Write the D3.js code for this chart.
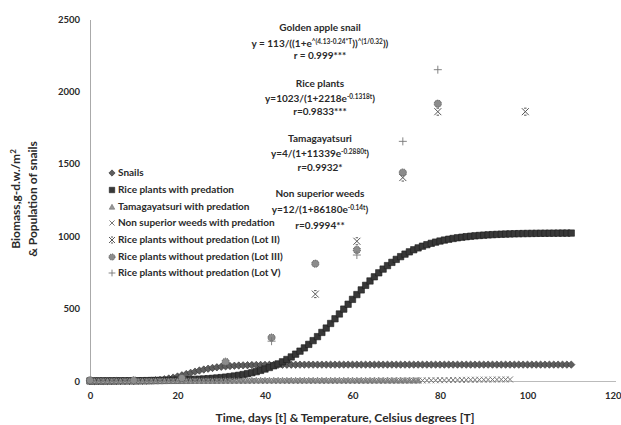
<!DOCTYPE html>
<html><head><meta charset="utf-8">
<script src="https://cdn.jsdelivr.net/npm/d3@7"></script>
<style>
html,body{margin:0;padding:0;background:#fff;}
svg{display:block;}
text{font-family:Lato,"Open Sans",sans-serif;fill:#2a2a2a;}
</style></head>
<body>
<script>
// ---- data (index of each curve array = day) ----
const snails = [0,0,0,0,0,0,0.02,0.04,0.08,0.16,
 0.30,0.57,1.03,1.82,3.10,5.08,7.97,11.97,17.19,23.60,
 31.06,39.26,47.83,56.39,64.60,72.21,79.03,85.02,90.14,94.47,
 98.06,101.0,103.4,105.4,106.9,108.2,109.2,110.0,110.6,111.1,
 111.5,111.8,112.1,112.3,112.4,112.6,112.7,112.7,112.8,112.8,
 112.9,112.9,112.9,112.9,112.9,113,113,113,113,113,
 113,113,113,113,113,113,113,113,113,113,
 113,113,113,113,113,113,113,113,113,113,
 113,113,113,113,113,113,113,113,113,113,
 113,113,113,113,113,113,113,113,113,113,
 113,113,113,113,113,113,113,113,113,113,113];
const riceWithPredation = [0.5,0.5,0.6,0.7,0.8,0.9,1.0,1.2,1.3,1.5,
 1.7,2.0,2.2,2.6,2.9,3.3,3.8,4.3,4.9,5.6,
 6.4,7.3,8.3,9.5,10.8,12.3,14.0,16.0,18.2,20.7,
 23.5,26.7,30.4,34.5,39.2,44.5,50.5,57.2,64.7,73.2,
 82.7,93.3,105.0,118.1,132.6,148.6,166.1,185.3,206.1,228.7,
 252.9,278.9,306.4,335.4,365.7,397.3,429.8,462.9,496.4,530.1,
 563.7,596.8,629.2,660.6,690.9,719.7,747.1,772.8,796.9,819.3,
 839.9,858.9,876.2,892.0,906.4,919.3,931.0,941.5,950.8,959.1,
 966.6,973.3,979.1,984.3,989.0,993.0,996.6,999.8,1002.6,1005.1,
 1007.3,1009.2,1010.9,1012.4,1013.7,1014.8,1015.8,1016.7,1017.5,1018.2,
 1018.7,1019.2,1019.6,1020.0,1020.3,1020.6,1020.9,1021.1,1021.3,1021.4,1021.6];
const tamagayatsuri = [0,0,0,0,0,0,0,0,0,0,
 0.01,0.01,0.01,0.01,0.02,0.03,0.04,0.05,0.06,0.08,
 0.11,0.14,0.19,0.25,0.33,0.43,0.54,0.69,0.87,1.09,
 1.33,1.60,1.88,2.17,2.45,2.72,2.95,3.16,3.33,3.47,
 3.59,3.68,3.76,3.82,3.86,3.89,3.92,3.94,3.96,3.97,
 3.97,3.98,3.98,3.99,3.99,3.99,3.99,4,4,4,
 4,4,4,4,4,4,4,4,4,4,
 4,4,4,4,4,4];
const nonSuperiorWeeds = [0,0,0,0,0,0,0,0,0,0,
 0,0,0,0,0,0,0,0,0,0,
 0,0,0,0,0,0,0,0,0,0,
 0.01,0.01,0.01,0.01,0.01,0.02,0.02,0.02,0.03,0.03,
 0.04,0.04,0.05,0.06,0.07,0.08,0.09,0.10,0.11,0.13,
 0.15,0.17,0.20,0.23,0.26,0.30,0.34,0.39,0.45,0.52,
 0.59,0.67,0.77,0.87,1.00,1.13,1.28,1.45,1.64,1.85,
 2.08,2.33,2.60,2.90,3.22,3.56,3.92,4.30,4.69,5.10,
 5.51,5.93,6.35,6.76,7.17,7.57,7.96,8.32,8.67,8.99,
 9.30,9.58,9.84,10.07,10.29,10.49,10.66];
const lot2Days = [51.5, 61, 71.5, 79.5, 99.5];
const lot2Values = [600, 965, 1405, 1860, 1860];
const lot3Days = [0, 10, 21, 31, 41.5, 51.5, 61, 71.5, 79.5];
const lot3Values = [5, 5, 20, 133, 300, 810, 905, 1440, 1915];
const lot5Days = [41.5, 61, 71.5, 79.5];
const lot5Values = [275, 870, 1655, 2150];
const xTicks = [0, 20, 40, 60, 80, 100, 120];
const yTicks = [0, 500, 1000, 1500, 2000, 2500];
const legendLabels = ["Snails", "Rice plants with predation", "Tamagayatsuri with predation",
 "Non superior weeds with predation", "Rice plants without predation (Lot II)",
 "Rice plants without predation (Lot III)", "Rice plants without predation (Lot V)"];

// ---- setup ----
const W = 621, H = 425;
const svg = d3.select("body").append("svg").attr("width", W).attr("height", H);
svg.append("rect").attr("width", W).attr("height", H).attr("fill", "#fff");
const x = d3.scaleLinear().domain([0, 120]).range([90, 615]);
const y = d3.scaleLinear().domain([0, 2500]).range([381, 19]);

// ---- marker shapes ----
const shapes = {
  diamond: s => `M0,${-s}L${s},0L0,${s}L${-s},0Z`,
  square: s => `M${-s},${-s}h${2*s}v${2*s}h${-2*s}Z`,
  triangle: s => `M0,${-s}L${s},${s*0.8}L${-s},${s*0.8}Z`,
  cross: s => `M${-s},${-s}L${s},${s}M${-s},${s}L${s},${-s}`,
  star: s => `M${-s},${-s}L${s},${s}M${-s},${s}L${s},${-s}M${-s*0.35},${-s}L${s*0.35},${-s}M${-s*0.35},${s}L${s*0.35},${s}`,
  plus: s => `M${-s},0L${s},0M0,${-s}L0,${s}`
};
const styles = [
  {shape: "diamond", size: 3.7, fill: "#5e5e5e", stroke: "#333", sw: 0.6},
  {shape: "square", size: 3.2, fill: "#383838", stroke: "#1e1e1e", sw: 0.6},
  {shape: "triangle", size: 3.2, fill: "#9a9a9a", stroke: "#666", sw: 0.6},
  {shape: "cross", size: 3.0, fill: "none", stroke: "#777", sw: 1},
  {shape: "star", size: 3.5, fill: "none", stroke: "#555", sw: 1},
  {shape: "circle", size: 3.6, fill: "#8c8c8c", stroke: "#555", sw: 1},
  {shape: "plus", size: 4, fill: "none", stroke: "#777", sw: 0.9}
];
function drawMarker(g, st) {
  if (st.shape === "circle") {
    return g.append("circle").attr("r", st.size).attr("fill", st.fill)
      .attr("stroke", st.stroke).attr("stroke-width", st.sw).attr("stroke-dasharray", "1,1");
  }
  return g.append("path").attr("d", shapes[st.shape](st.size)).attr("fill", st.fill)
    .attr("stroke", st.stroke).attr("stroke-width", st.sw);
}

// ---- axes ----
const yAxis = svg.append("g").attr("transform", "translate(90,0)")
  .call(d3.axisLeft(y).tickValues(yTicks).tickFormat(d3.format("d")).tickSize(0).tickSizeOuter(0).tickPadding(10));
yAxis.select(".domain").attr("stroke", "#555").attr("stroke-dasharray", "1,1");
yAxis.selectAll("text").style("font-family", "Lato").style("font-size", "9.5px").style("font-weight", "700").attr("fill", "#333");

const xAxis = svg.append("g").attr("transform", "translate(0,381)")
  .call(d3.axisBottom(x).tickValues(xTicks).tickFormat(d3.format("d")).tickSize(0).tickSizeOuter(0).tickPadding(11));
xAxis.select(".domain").attr("stroke", "#777").attr("stroke-dasharray", "1,1");
xAxis.selectAll("text").style("font-family", "Lato").style("font-size", "9.5px").style("font-weight", "700").attr("fill", "#333");
xAxis.selectAll(".tick").filter(d => d === 120).select("text").attr("text-anchor", "end").attr("x", 6);

// ---- series ----
const curveSeries = [snails, riceWithPredation, tamagayatsuri, nonSuperiorWeeds];
const plot = svg.append("g");
curveSeries.forEach((arr, i) => {
  const st = styles[i];
  arr.forEach((v, d) => {
    const g = plot.append("g").attr("transform", `translate(${x(d)},${y(v)})`);
    drawMarker(g, st);
  });
});
const scatterSeries = [[lot2Days, lot2Values], [lot3Days, lot3Values], [lot5Days, lot5Values]];
scatterSeries.forEach((pair, j) => {
  const st = styles[4 + j];
  pair[0].forEach((d, k) => {
    const g = plot.append("g").attr("transform", `translate(${x(d)},${y(pair[1][k])})`);
    drawMarker(g, st);
  });
});

// ---- legend ----
const legendY = [173, 190, 207, 223, 240, 257, 273];
const lg = svg.append("g");
legendLabels.forEach((lab, i) => {
  const g = lg.append("g").attr("transform", `translate(112,${legendY[i]})`);
  const st = Object.assign({}, styles[i], {size: styles[i].size * 0.85});
  drawMarker(g, st);
  g.append("text").attr("x", 6).attr("y", 3.4).text(lab)
    .style("font-size", "10px").style("font-weight", "700").attr("fill", "#333");
});

// ---- annotations ----
const ann = svg.append("g").attr("text-anchor", "middle");
function line(yb, parts) {
  const t = ann.append("text").attr("x", 320).attr("y", yb).style("font-weight", "700").style("font-size", "10px");
  let shift = 0;
  parts.forEach(p => {
    if (typeof p === "string") {
      const ts = t.append("tspan").text(p);
      if (shift) { ts.attr("dy", shift); shift = 0; }
    } else {
      t.append("tspan").attr("dy", -3.5).style("font-size", "6.5px").text(p.sup);
      shift = 3.5;
    }
  });
  return t;
}
line(31, ["Golden apple snail"]);
line(47, ["y = 113/((1+e", {sup: "^(4.13-0.24*T"}, "))", {sup: "^(1/0.32"}, "))"]);
line(59, ["r = 0.999***"]);
line(87, ["Rice plants"]);
line(102, ["y=1023/(1+2218e", {sup: "-0.1318t"}, ")"]);
line(115, ["r=0.9833***"]);
line(142, ["Tamagayatsuri"]);
line(157, ["y=4/(1+11339e", {sup: "-0.2880t"}, ")"]);
line(171, ["r=0.9932*"]);
line(197, ["Non superior weeds"]);
line(213, ["y=12/(1+86180e", {sup: "-0.14t"}, ")"]);
line(229, ["r=0.9994**"]);

// ---- axis titles ----
svg.append("text").attr("x", 345).attr("y", 422).attr("text-anchor", "middle")
  .style("font-weight", "700").style("font-size", "12px").attr("fill", "#333")
  .text("Time, days [t] & Temperature, Celsius degrees [T]");
const yt1 = svg.append("text").attr("transform", "translate(20,199) rotate(-90)").attr("text-anchor", "middle")
  .style("font-weight", "700").style("font-size", "12px").attr("fill", "#333");
yt1.append("tspan").text("Biomass,g-d.w./m");
yt1.append("tspan").attr("dy", -4).style("font-size", "8px").text("2");
svg.append("text").attr("transform", "translate(37,199) rotate(-90)").attr("text-anchor", "middle")
  .style("font-weight", "700").style("font-size", "12px").attr("fill", "#333")
  .text("& Population of snails");
</script>
</body></html>
